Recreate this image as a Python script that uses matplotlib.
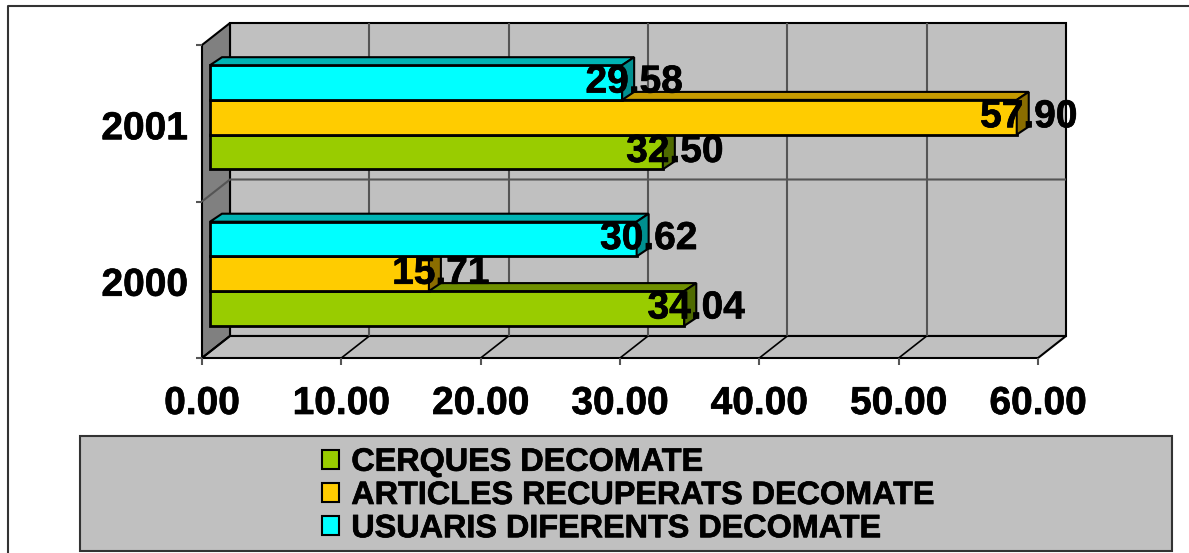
import matplotlib
matplotlib.use('Agg')
import matplotlib.pyplot as plt
import matplotlib.patheffects as pe
from matplotlib.patches import Polygon, Rectangle
from matplotlib.lines import Line2D

plt.rcParams['font.family'] = ['Liberation Sans', 'DejaVu Sans']
plt.rcParams['font.weight'] = 'bold'

# data
years = ['2000', '2001']
cerques = [34.04, 32.50]
articles = [15.71, 57.90]
usuaris = [30.62, 29.58]
x_ticks = [0, 10, 20, 30, 40, 50, 60]
labels = ['CERQUES DECOMATE', 'ARTICLES RECUPERATS DECOMATE', 'USUARIS DIFERENTS DECOMATE']

W, H = 1189, 553
fig = plt.figure(figsize=(W / 100, H / 100), dpi=100)

# front plane of the fake 3d box, in pixels
L, R, T, B = 202, 1038, 45, 358
ax = fig.add_axes([L / W, 1 - B / H, (R - L) / W, (B - T) / H])
ax.set_xlim(0, 60)
ax.set_ylim(0, 2)
ax.axis('off')

px = 60 / (R - L)   # one pixel in x units
py = 2 / (B - T)    # one pixel in y units
DX, DY = 28 * px, 22 * py   # depth of box

heavy = [pe.withStroke(linewidth=0.5, foreground='black')]

def poly(pts, fc, lw=1.5, z=2, ec='black'):
    ax.add_patch(Polygon(pts, closed=True, fc=fc, ec=ec, lw=lw, zorder=z, clip_on=False, joinstyle='miter'))

def line(xs, ys, color='black', lw=1.5, z=1.5):
    ax.add_line(Line2D(xs, ys, color=color, lw=lw, zorder=z, clip_on=False, solid_capstyle='butt'))

# walls and floor
poly([(DX, DY), (60 + DX, DY), (60 + DX, 2 + DY), (DX, 2 + DY)], '#c0c0c0', z=1)
poly([(0, 0), (DX, DY), (DX, 2 + DY), (0, 2)], '#808080', z=1)
poly([(0, 0), (60, 0), (60 + DX, DY), (DX, DY)], '#c0c0c0', z=1)

# grid
for v in x_ticks:
    if 0 < v < 60:
        line([v + DX, v + DX], [DY, 2 + DY], color='#555555')
    if v < 60:
        line([v, v + DX], [0, DY], lw=1.2)
    line([v, v], [0, -7 * py], color='#555555')
line([0, DX, 60 + DX], [1, 1 + DY, 1 + DY], color='#555555')
for c in [0, 1, 2]:
    line([-6 * px, 0], [c, c], color='#555555')

# bars
bar_h = 34.7 * py
bar_x0 = 8 * px
bar_shift = 6 * py
depth_x, depth_y = 12 * px, 8 * py

series = [
    (cerques, '#99cc00', '#6f8f00', '#4f6b00', -1),
    (articles, '#ffcc00', '#c49a00', '#8a6d00', 0),
    (usuaris, '#00ffff', '#00b4b4', '#009090', 1),
]

for c in range(len(years)):
    for vals, col, top, side, pos in series:
        v = vals[c]
        y0 = c + 0.5 + bar_shift + (pos - 0.5) * bar_h
        y1 = y0 + bar_h
        x1 = bar_x0 + v
        z = 3 + c * 3 + pos
        ax.barh(y0, v, height=bar_h, left=bar_x0, align='edge', color=col, edgecolor='black', lw=2, zorder=z, clip_on=False)
        poly([(bar_x0, y1), (x1, y1), (x1 + depth_x, y1 + depth_y), (bar_x0 + depth_x, y1 + depth_y)], top, z=z)
        poly([(x1, y0), (x1 + depth_x, y0 + depth_y), (x1 + depth_x, y1 + depth_y), (x1, y1)], side, z=z)
        ax.text(x1 + depth_x, (y0 + y1) / 2, f'{v:.2f}', ha='center', va='center', fontsize=28, color='black',
                zorder=20, clip_on=False, path_effects=heavy)

# axis labels
for v in x_ticks:
    ax.text(v, -46 * py, f'{v:.2f}', ha='center', va='center', fontsize=28, color='black', path_effects=heavy)
for c, y in enumerate(years):
    ax.text(-14 * px, c + 0.5 - 6 * py, y, ha='right', va='center', fontsize=28, color='black', path_effects=heavy)

# legend box
fig.add_artist(Rectangle((80 / W, 1 - 551 / H), 1092 / W, 115 / H, transform=fig.transFigure, fc='#c0c0c0', ec='#333333', lw=1.5))
handles = [Rectangle((0, 0), 1, 1, fc=s[1], ec='black', lw=1.5) for s in series]
leg = fig.legend(handles, labels, loc='center left', bbox_to_anchor=(306 / W, 1 - 496 / H), frameon=False,
                 fontsize=23.3, handlelength=0.52, handleheight=0.52, handletextpad=0.38, labelspacing=0.1,
                 labelcolor='black', borderpad=0, borderaxespad=0.5)
for t in leg.get_texts():
    t.set_path_effects(heavy)

# outer frame
fig.add_artist(Line2D([8 / W, 8 / W, 1], [0, 1 - 6 / H, 1 - 6 / H], transform=fig.transFigure, color='#333333', lw=1.5))

fig.savefig('out.png', dpi=100)
